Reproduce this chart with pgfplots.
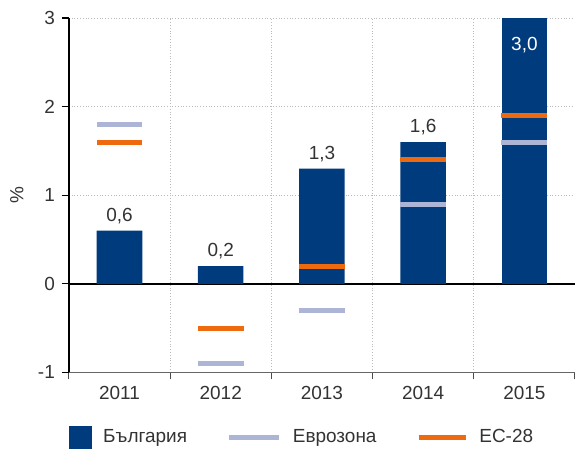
\documentclass[border=0pt]{standalone}
\usepackage{pgfplots}
\pgfplotsset{compat=1.18}
\usepackage{fontspec}
\setmainfont{Liberation Sans}
\definecolor{bgblue}{HTML}{003C7D}
\definecolor{ezgray}{HTML}{ADB5D6}
\definecolor{euorange}{HTML}{EE6A0F}
\definecolor{txt}{HTML}{333333}
\definecolor{gridc}{HTML}{BBBBBB}
\pgfplotsset{/pgf/number format/assume math mode=true}
\begin{document}
\begin{tikzpicture}[font=\fontsize{9.5}{11}\selectfont]
\begin{axis}[
    name=ax,
    scale only axis,
    width=253.5pt, height=177.5pt,
    xmin=-0.5, xmax=4.5,
    ymin=-1, ymax=3,
    axis lines=left,
    axis line style={-},
    x axis line style={draw=black!60, line width=0.8pt},
    y axis line style={draw=black, line width=0.8pt},
    xtick={0,...,4},
    xticklabels={2011,2012,2013,2014,2015},
    major x tick style={draw=none},
    minor xtick={-0.5,0.5,1.5,2.5,3.5,4.5},
    minor x tick style={draw=black!70, line width=0.6pt},
    xminorgrids,
    ytick={-1,0,1,2,3},
    ymajorgrids,
    y tick style={draw=black, line width=0.6pt},
    grid style={gridc, densely dotted, line width=0.4pt},
    tick align=outside,
    major tick length=3.5pt, minor tick length=3.5pt,
    tick label style={text=txt},
    ylabel={\%},
    ylabel style={at={(axis description cs:-0.1026,0.5)}, anchor=center, text=txt},
    legend style={at={(0,-0.183)}, anchor=west, draw=none, fill=none, inner sep=0pt,
        legend columns=3, font=\fontsize{9.5}{11}\selectfont, text=txt,
        nodes={inner sep=0pt},
        /tikz/every odd column/.append style={column sep=5.5pt},
        /tikz/every even column/.append style={column sep=20pt}},
]
\draw[black, line width=0.8pt] (axis cs:-0.5,0) -- (axis cs:4.5,0);

% Bulgaria
\addplot[ybar, bar width=0.45, bar shift=0pt, fill=bgblue, draw=none,
    nodes near coords={\pgfmathprintnumber[fixed, fixed zerofill, precision=1, use comma, assume math mode=true]{\pgfplotspointmeta}},
    every node near coord/.append style={text=txt},
    legend image code/.code={\fill[bgblue] (0pt,-5.75pt) rectangle (11.5pt,5.75pt);}]
    coordinates {(0,0.6) (1,0.2) (2,1.3) (3,1.6)};
\addlegendentry{България}
\addplot[ybar, bar width=0.45, bar shift=0pt, fill=bgblue, draw=none, forget plot,
    nodes near coords={\pgfmathprintnumber[fixed, fixed zerofill, precision=1, use comma, assume math mode=true]{\pgfplotspointmeta}},
    every node near coord/.append style={anchor=north, text=white, yshift=-6pt}]
    coordinates {(4,3.0)};

% Eurozone
\addplot[only marks, mark=-, mark size=11.5pt, ezgray,
    mark options={line width=2.5pt, line cap=butt},
    legend image code/.code={\draw[ezgray, line width=2.5pt] (0pt,0pt) -- (25pt,0pt);}]
    coordinates {(0,1.8) (1,-0.9) (2,-0.3) (3,0.9) (4,1.6)};
\addlegendentry{Еврозона}

% EU-28
\addplot[only marks, mark=-, mark size=11.5pt, euorange,
    mark options={line width=2.5pt, line cap=butt},
    legend image code/.code={\draw[euorange, line width=2.5pt] (0pt,0pt) -- (23.5pt,0pt);}]
    coordinates {(0,1.6) (1,-0.5) (2,0.2) (3,1.4) (4,1.9)};
\addlegendentry{ЕС-28}
\end{axis}
\pgfresetboundingbox
\path[use as bounding box] ([xshift=-34.5pt, yshift=-38pt]ax.south west)
    rectangle ([yshift=9pt]ax.north east);
\end{tikzpicture}
\end{document}
